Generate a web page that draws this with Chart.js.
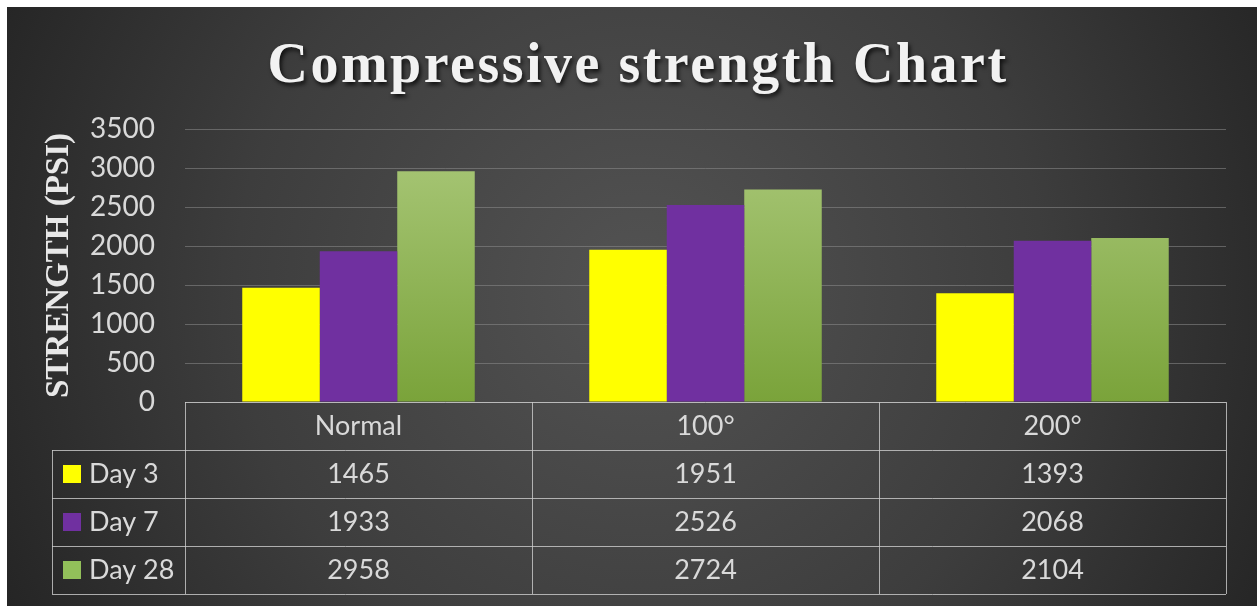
<!DOCTYPE html>
<html>
<head>
<meta charset="utf-8">
<script src="https://cdn.jsdelivr.net/npm/chart.js@4"></script>
<style>
  html, body { margin: 0; padding: 0; background: #fff; }
  #wrap { width: 1257px; height: 606px; }
</style>
</head>
<body>
<div id="wrap"><canvas id="strengthChart" width="1257" height="606"></canvas></div>
<script>
const categories = ['Normal', '100°', '200°'];
const day3 = [1465, 1951, 1393];
const day7 = [1933, 2526, 2068];
const day28 = [2958, 2724, 2104];
const seriesNames = ['Day 3', 'Day 7', 'Day 28'];
const yTicks = [0, 500, 1000, 1500, 2000, 2500, 3000, 3500];

const textColor = '#d9d9d9';
const lineColor = 'rgba(205, 205, 205, 0.8)';
const sansFont = "Lato, 'Open Sans', sans-serif";
const serifFont = "'Liberation Serif', 'DejaVu Serif', serif";

// Dark radial background with a thin white margin top/left
const backgroundPlugin = {
    id: 'background',
    beforeDraw(chart) {
        const ctx = chart.ctx;
        const w = chart.width, h = chart.height;
        ctx.save();
        ctx.fillStyle = '#ffffff';
        ctx.fillRect(0, 0, w, h);
        const g = ctx.createRadialGradient(640, 290, 20, 640, 290, 720);
        g.addColorStop(0, '#525252');
        g.addColorStop(0.55, '#3d3d3d');
        g.addColorStop(1, '#242424');
        ctx.fillStyle = g;
        ctx.fillRect(7, 7, w - 7, h - 7);
        ctx.restore();
    }
};

// Title with letter spacing and a soft shadow
const titlePlugin = {
    id: 'bigTitle',
    afterDraw(chart) {
        const ctx = chart.ctx;
        ctx.save();
        ctx.font = 'bold 56px ' + serifFont;
        ctx.letterSpacing = '2.5px';
        ctx.textAlign = 'center';
        ctx.textBaseline = 'alphabetic';
        ctx.shadowColor = 'rgba(0,0,0,0.75)';
        ctx.shadowOffsetX = 2;
        ctx.shadowOffsetY = 3;
        ctx.shadowBlur = 4;
        ctx.fillStyle = '#f2f2f2';
        ctx.fillText('Compressive strength Chart', 638, 82);
        ctx.restore();
    }
};

// Data table under the plot, columns taken from the x scale
const tablePlugin = {
    id: 'dataTable',
    afterDraw(chart) {
        const ctx = chart.ctx;
        const x = chart.scales.x;
        const area = chart.chartArea;
        const rowH = 48;
        const top = area.bottom;
        const bottom = top + rowH * 4;
        const labelLeft = 52;
        const n = categories.length;
        const colW = (area.right - area.left) / n;

        ctx.save();
        ctx.strokeStyle = lineColor;
        ctx.lineWidth = 1;
        ctx.beginPath();
        // header top line
        ctx.moveTo(area.left, top + 0.5);
        ctx.lineTo(area.right, top + 0.5);
        // row lines
        for (let r = 1; r <= 4; r++) {
            const y = Math.round(top + rowH * r) + 0.5;
            ctx.moveTo(labelLeft, y);
            ctx.lineTo(area.right, y);
        }
        // vertical lines
        for (let c = 0; c <= n; c++) {
            const xx = Math.round(area.left + colW * c) + 0.5;
            ctx.moveTo(xx, top);
            ctx.lineTo(xx, bottom);
        }
        ctx.moveTo(labelLeft + 0.5, top + rowH);
        ctx.lineTo(labelLeft + 0.5, bottom);
        ctx.stroke();

        ctx.font = '27px ' + sansFont;
        ctx.fillStyle = textColor;
        ctx.textAlign = 'center';
        ctx.textBaseline = 'middle';
        categories.forEach((cat, i) => {
            ctx.fillText(cat, x.getPixelForTick(i), top + rowH / 2);
        });

        chart.data.datasets.forEach((ds, r) => {
            const cy = top + rowH * (r + 1.5);
            ds.data.forEach((v, i) => {
                ctx.fillStyle = textColor;
                ctx.textAlign = 'center';
                ctx.fillText(String(v), x.getPixelForTick(i), cy);
            });
            ctx.fillStyle = ds.swatch;
            ctx.fillRect(63, cy - 9, 18, 18);
            ctx.fillStyle = textColor;
            ctx.textAlign = 'left';
            ctx.fillText(ds.label, 89, cy);
        });
        ctx.restore();
    }
};

function greenGradient(context) {
    const area = context.chart.chartArea;
    if (!area) return '#8fb650';
    const g = context.chart.ctx.createLinearGradient(0, area.top, 0, area.bottom);
    g.addColorStop(0, '#abc97b');
    g.addColorStop(1, '#7aa33a');
    return g;
}

new Chart(document.getElementById('strengthChart'), {
    type: 'bar',
    data: {
        labels: categories,
        datasets: [
            { label: seriesNames[0], data: day3, backgroundColor: '#ffff00', swatch: '#ffff00' },
            { label: seriesNames[1], data: day7, backgroundColor: '#7030a0', swatch: '#7030a0' },
            { label: seriesNames[2], data: day28, backgroundColor: greenGradient, swatch: '#92c05a' }
        ]
    },
    options: {
        responsive: false,
        animation: false,
        layout: { padding: { top: 129, right: 31, bottom: 204, left: 0 } },
        datasets: {
            bar: { categoryPercentage: 0.67, barPercentage: 1.0 }
        },
        plugins: {
            legend: { display: false },
            title: { display: false },
            tooltip: { enabled: false }
        },
        scales: {
            x: { display: false },
            y: {
                min: 0,
                max: 3500,
                afterBuildTicks(scale) {
                    scale.ticks = yTicks.map(v => ({ value: v }));
                },
                afterFit(scale) { scale.width = 185; },
                grid: { color: 'rgba(140,140,140,0.55)', drawTicks: false, lineWidth: 1 },
                border: { display: false },
                ticks: {
                    color: textColor,
                    padding: 30,
                    font: { family: sansFont, size: 28 },
                    callback: v => String(v)
                },
                title: {
                    display: true,
                    text: 'STRENGTH (PSI)',
                    color: '#e8e8e8',
                    padding: { top: 40, bottom: 0 },
                    font: { family: serifFont, size: 33, weight: 'bold' }
                }
            }
        }
    },
    plugins: [backgroundPlugin, titlePlugin, tablePlugin]
});
</script>
</body>
</html>
